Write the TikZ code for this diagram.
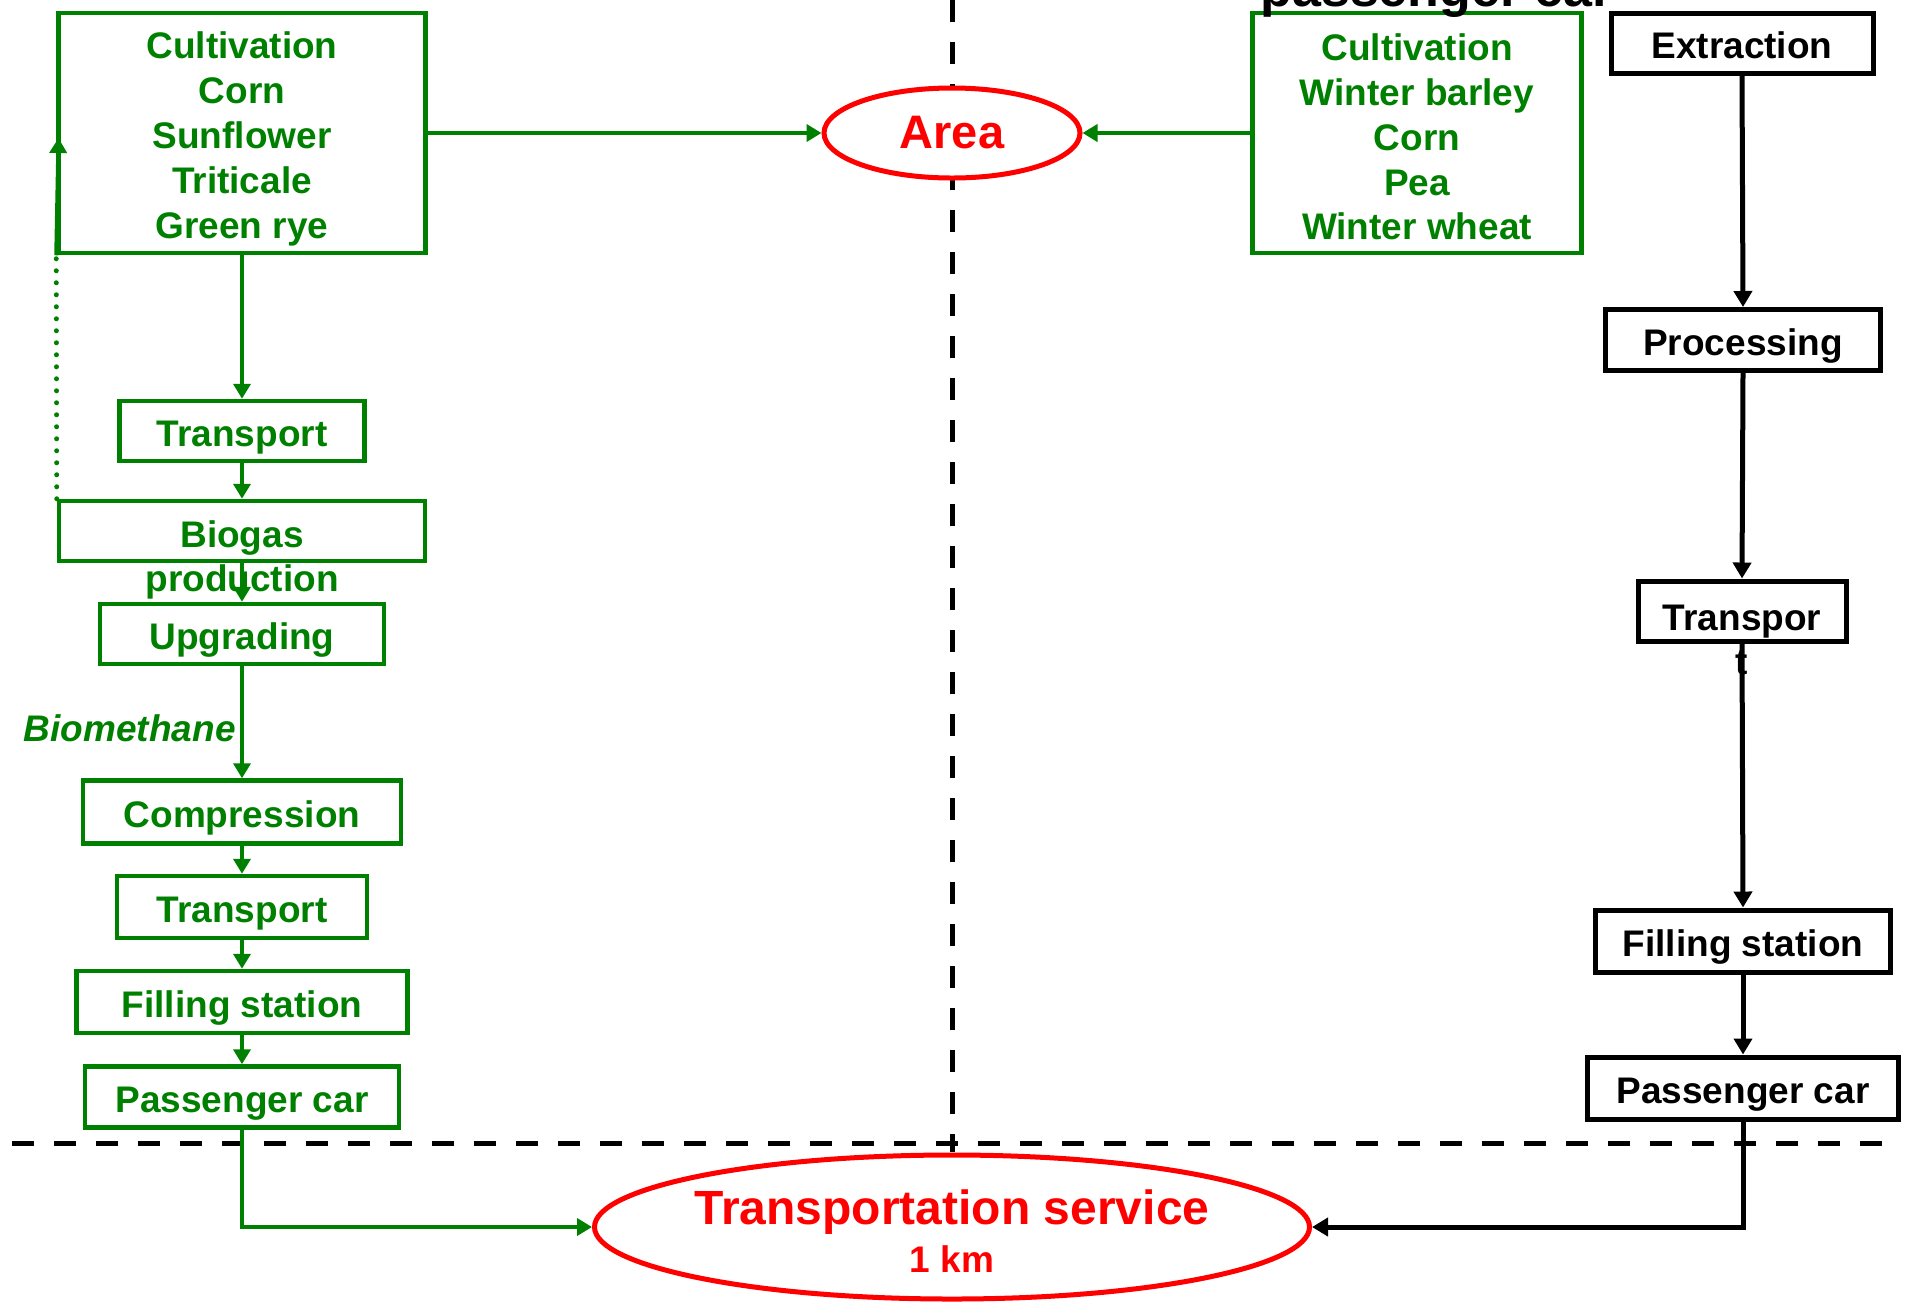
\documentclass[tikz,border=0pt]{standalone}
\usepackage{fontspec}
\setmainfont{Liberation Sans}
\usetikzlibrary{arrows.meta}
\usetikzlibrary{shapes.geometric}

\definecolor{bgreen}{RGB}{0,128,0}
\definecolor{bred}{RGB}{255,0,0}
\newcommand{\boxfont}{\fontsize{18.5}{22.4}\selectfont\bfseries}

\begin{document}
\begin{tikzpicture}[x=0.5pt,y=-0.5pt,
    box/.style={line width=2.25pt,font=\boxfont,inner sep=0pt,align=center},
    cbox/.style={box,draw=bgreen},
    ctext/.style={box,text=bgreen},
    gbox/.style={box,draw=bgreen,text=bgreen,text height=18pt,text depth=2.5pt},
    kbox/.style={box,draw=black,line width=2.5pt,text height=18pt,text depth=2.5pt},
    oval/.style={ellipse,draw=bred,fill=white,line width=2.5pt,text=bred,inner sep=0pt},
    garrow/.style={draw=bgreen,line width=2pt,-{Triangle[length=7.5pt,width=8.5pt]}},
    karrow/.style={draw=black,line width=2.5pt,-{Triangle[length=8pt,width=9pt]}},
    divider/.style={line width=2.5pt,dash pattern=on 11pt off 10pt}]
\useasboundingbox (0,0) rectangle (1910,1303);

% dividers
\draw[divider] (952,0) -- (952,1152);
\draw[divider] (12,1143) -- (1890,1143);

% biogas chain
\node[cbox,minimum width=183.5pt,minimum height=120pt,
      label={[ctext,yshift=-3pt]center:{Cultivation\\Corn\\Sunflower\\Triticale\\Green rye}}]
      (cultL) at (242,133) {};
\node[gbox,minimum width=122.5pt,minimum height=30pt] (trL1) at (242,431) {Transport};
\node[gbox,minimum width=183pt,minimum height=30pt] (bio) at (242,531) {};
\node[ctext] (biotxt) at (242,560) {Biogas\\production};
\node[gbox,minimum width=142pt,minimum height=30pt] (upg) at (242,634) {Upgrading};
\node[font=\boxfont\itshape,text=bgreen,anchor=east,inner sep=0pt] (biometh) at (236,728) {Biomethane};
\node[gbox,minimum width=159pt,minimum height=31.5pt] (comp) at (242,812) {Compression};
\node[gbox,minimum width=125pt,minimum height=31pt] (trL2) at (242,907) {Transport};
\node[gbox,minimum width=165.5pt,minimum height=31pt] (fillL) at (242,1002) {Filling station};
\node[gbox,minimum width=157pt,minimum height=30.5pt] (carL) at (242,1097) {Passenger car};

% fossil chain
\node[cbox,minimum width=164.5pt,minimum height=120pt,
      label={[ctext,yshift=-2pt]center:{Cultivation\\Winter barley\\Corn\\Pea\\Winter wheat}}]
      (cultR) at (1417,133) {};
\node[font=\fontsize{26}{30}\selectfont\bfseries,anchor=base west,inner sep=0pt] (title) at (1260,6) {passenger car};
\node[kbox,minimum width=131pt,minimum height=30pt] (extr) at (1742,43) {Extraction};
\node[kbox,minimum width=137.5pt,minimum height=30.5pt] (proc) at (1743,340) {Processing};
\node[kbox,minimum width=104pt,minimum height=30pt] (trR) at (1742,611) {};
\node[box] (trRtxt) at (1742,640) {Transpor\\t};
\node[kbox,minimum width=147.5pt,minimum height=31pt] (fillR) at (1743,941) {Filling station};
\node[kbox,minimum width=155.5pt,minimum height=31pt] (carR) at (1743,1088) {Passenger car};

% targets
\node[oval,minimum width=128pt,minimum height=45pt,font=\fontsize{23.5}{28}\selectfont\bfseries] (area) at (952,133) {Area};
\node[oval,minimum width=357.5pt,minimum height=72pt,
      label={[text=bred,align=center,inner sep=0pt,yshift=-2pt]center:{\fontsize{24}{28}\selectfont\bfseries Transportation service\\[5pt]\boxfont 1 km}}]
      (service) at (952,1227) {};

% arrows
\foreach \u/\v in {cultL/trL1, trL1/bio, bio/upg, upg/comp, comp/trL2, trL2/fillL, fillL/carL}
    \draw[garrow] (\u.south) -- (\v.north);
\foreach \u/\v in {extr/proc, proc/trR, trR/fillR, fillR/carR}
    \draw[karrow] (\u.south) -- (\v.north);
\draw[garrow] (cultL.east) -- (area.west);
\draw[garrow] (cultR.west) -- (area.east);
\draw[garrow] (carL.south) |- (service.west);
\draw[karrow] (carR.south) |- (service.east);

% feedback
\coordinate (back) at (58.5,138);
\draw[bgreen,line width=2.5pt,line cap=round,dash pattern=on 0pt off 6pt] (bio.north west) -- (cultL.south west);
\draw[garrow] (cultL.south west) -- (back);
\end{tikzpicture}
\end{document}
